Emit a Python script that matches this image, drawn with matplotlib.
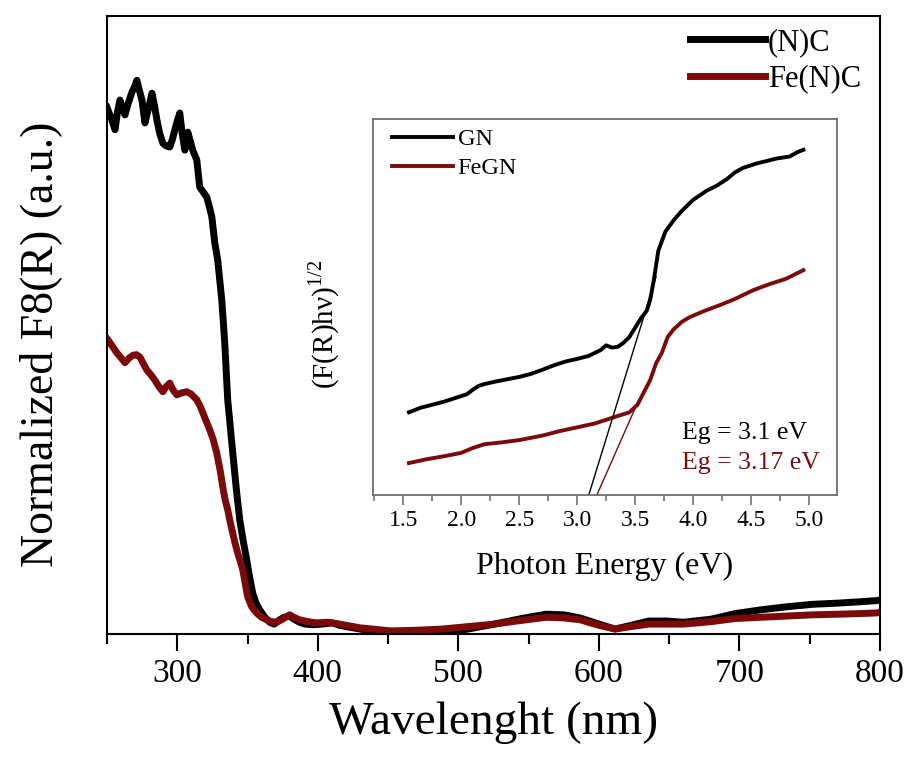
import matplotlib
matplotlib.use("Agg")
import matplotlib.pyplot as plt
from matplotlib.ticker import MultipleLocator

plt.rcParams["font.family"] = ["Liberation Serif", "DejaVu Serif"]
plt.rcParams["mathtext.fontset"] = "custom"
plt.rcParams["mathtext.rm"] = "Liberation Serif"

DARK_RED = "#7b0b0b"
INSET_GREY = "#6e6e6e"

# ---- main spectra: normalized F(R) vs wavelength ----
nc_wl = [250, 250.7, 253, 255.7, 257.5, 259.2, 261, 262.8, 265, 267.8,
         269.5, 271.3, 273, 274.9, 277, 279.5, 282, 283.8, 285.5, 287.5,
         289.8, 292, 294.7, 296.5, 298.3, 300, 301.8, 303.5, 305.4, 307.5,
         309, 311, 313.9, 316, 318.5, 321, 323, 324.6, 326.7, 328.8,
         331.7, 333.8, 335.9, 339.5, 342, 344.5, 347, 349.4, 351.5, 353.7,
         356, 358.7, 362, 365.8, 369, 372.9, 376, 380, 383, 387,
         391, 396.3, 403, 410.5, 415.5, 430, 452, 470, 488.6, 507,
         525.6, 545, 562.5, 575, 586.6, 600, 611.5, 623, 635.6, 648,
         660.5, 680, 697, 715, 733.6, 752, 770.6, 785, 797.6, 800]
nc_fr = [0.852, 0.848, 0.835, 0.816, 0.845, 0.864, 0.850, 0.840, 0.858, 0.877,
         0.885, 0.896, 0.880, 0.864, 0.827, 0.850, 0.875, 0.855, 0.832, 0.810,
         0.794, 0.790, 0.788, 0.800, 0.816, 0.830, 0.843, 0.810, 0.783, 0.812,
         0.800, 0.783, 0.767, 0.723, 0.715, 0.707, 0.690, 0.675, 0.633, 0.605,
         0.540, 0.471, 0.379, 0.293, 0.235, 0.184, 0.150, 0.120, 0.092, 0.066,
         0.050, 0.039, 0.028, 0.019, 0.016, 0.023, 0.027, 0.029, 0.024, 0.019,
         0.016, 0.015, 0.016, 0.018, 0.014, 0.008, 0.000, 0.001, 0.003, 0.008,
         0.016, 0.025, 0.032, 0.031, 0.026, 0.016, 0.008, 0.014, 0.021, 0.021,
         0.019, 0.024, 0.033, 0.039, 0.044, 0.048, 0.050, 0.052, 0.054, 0.055]

fenc_wl = [250, 250.7, 254, 257, 260, 262.8, 265.5, 268.5, 271, 273.5,
           276, 278.4, 281, 284, 287, 289.8, 292, 294.7, 297, 299.7,
           303, 306.8, 310, 313.9, 316, 318.2, 320.5, 323.2, 325.5, 328.1,
           330.5, 332.4, 334, 335.9, 337.5, 339.5, 341, 343, 344.8, 346.6,
           348.5, 350.1, 353, 356.5, 360, 363.6, 367, 370.7, 375, 380,
           383, 387, 393, 399, 407, 415.5, 430, 452, 470, 488.6,
           507, 525.6, 545, 562.5, 575, 586.6, 600, 611.5, 623, 635.6,
           648, 660.5, 680, 697, 715, 733.6, 752, 770.6, 785, 797.6, 800]
fenc_fr = [0.478, 0.476, 0.465, 0.455, 0.447, 0.439, 0.446, 0.451, 0.452, 0.448,
           0.437, 0.427, 0.420, 0.411, 0.400, 0.392, 0.400, 0.406, 0.395, 0.387,
           0.390, 0.392, 0.388, 0.379, 0.370, 0.358, 0.345, 0.330, 0.315, 0.293,
           0.265, 0.238, 0.218, 0.201, 0.183, 0.163, 0.148, 0.131, 0.118, 0.104,
           0.080, 0.060, 0.044, 0.034, 0.027, 0.023, 0.020, 0.019, 0.024, 0.031,
           0.027, 0.023, 0.020, 0.018, 0.019, 0.016, 0.010, 0.005, 0.006, 0.008,
           0.012, 0.016, 0.022, 0.027, 0.026, 0.023, 0.014, 0.008, 0.012, 0.016,
           0.016, 0.016, 0.020, 0.025, 0.027, 0.029, 0.031, 0.032, 0.033, 0.034, 0.035]

# ---- inset: Tauc plot ----
gn_ev = [1.55, 1.65, 1.75, 1.85, 1.95, 2.05, 2.1, 2.15, 2.2, 2.3,
         2.4, 2.5, 2.6, 2.7, 2.8, 2.9, 3.0, 3.1, 3.2, 3.25,
         3.3, 3.35, 3.4, 3.45, 3.5, 3.55, 3.6, 3.63, 3.66, 3.7,
         3.76, 3.83, 3.9, 4.0, 4.12, 4.2, 4.29, 4.36, 4.43, 4.55,
         4.63, 4.72, 4.83, 4.9, 4.95]
gn_tauc = [0.220, 0.232, 0.240, 0.248, 0.258, 0.268, 0.280, 0.290, 0.295, 0.302,
           0.308, 0.314, 0.322, 0.333, 0.345, 0.355, 0.362, 0.370, 0.385, 0.398,
           0.392, 0.394, 0.405, 0.420, 0.445, 0.470, 0.490, 0.520, 0.570, 0.650,
           0.700, 0.730, 0.755, 0.785, 0.810, 0.822, 0.840, 0.858, 0.870, 0.882,
           0.888, 0.895, 0.900, 0.912, 0.918]

fegn_ev = [1.55, 1.7, 1.85, 2.0, 2.1, 2.2, 2.35, 2.5, 2.7, 2.85,
           3.0, 3.15, 3.3, 3.45, 3.52, 3.57, 3.63, 3.68, 3.73, 3.78,
           3.83, 3.9, 3.97, 4.1, 4.23, 4.35, 4.52, 4.65, 4.8, 4.95]
fegn_tauc = [0.085, 0.095, 0.103, 0.112, 0.125, 0.135, 0.140, 0.146, 0.158, 0.170,
             0.180, 0.190, 0.205, 0.220, 0.240, 0.270, 0.306, 0.350, 0.378, 0.420,
             0.440, 0.460, 0.473, 0.490, 0.505, 0.520, 0.545, 0.560, 0.575, 0.598]

# band-gap extrapolation: intercept (Eg), slope of the linear edge, end of fit line
eg_values = [3.10, 3.17]
edge_slopes = [1.0, 0.70]
edge_ends = [3.68, 3.53]
eg_colors = ["black", DARK_RED]

fig = plt.figure(figsize=(9.09, 7.62), dpi=100)
ax = fig.add_axes([0.1177, 0.168, 0.8503, 0.811])

ax.plot(nc_wl, nc_fr, color="black", lw=5, label="(N)C", solid_joinstyle="round")
ax.plot(fenc_wl, fenc_fr, color=DARK_RED, lw=5, label="Fe(N)C", solid_joinstyle="round")

ax.set_xlim(250, 800)
ax.set_ylim(0, 1)
ax.set_yticks([])
ax.xaxis.set_major_locator(MultipleLocator(100))
ax.xaxis.set_minor_locator(MultipleLocator(50))
ax.tick_params(axis="x", which="major", direction="out", length=12, width=1.5,
               labelsize=24, pad=6)
ax.tick_params(axis="x", which="minor", direction="out", length=7, width=1.5)
for sp in ax.spines.values():
    sp.set_linewidth(1.5)
ax.set_xlabel("Wavelenght (nm)", fontsize=34, labelpad=9)
ax.set_ylabel("Normalized F8(R) (a.u.)", fontsize=33)
ax.yaxis.set_label_coords(-0.058, 0.468)

ax.legend(loc="upper left", bbox_to_anchor=(690 / 909, 1 - 28 / 762),
          bbox_transform=fig.transFigure, frameon=False, fontsize=22,
          handlelength=2.45, handletextpad=0.1, labelspacing=0.25,
          borderpad=0, borderaxespad=0)

# inset
ins = fig.add_axes([373 / 909, 1 - 495 / 762, 464 / 909, 376 / 762])
ins.plot(gn_ev, gn_tauc, color="black", lw=2.8, label="GN")
ins.plot(fegn_ev, fegn_tauc, color=DARK_RED, lw=2.8, label="FeGN")
for eg, slope, end, c in zip(eg_values, edge_slopes, edge_ends, eg_colors):
    ins.plot([eg, end], [0, slope * (end - eg)], color=c, lw=1.0)

ins.set_xlim(1.24, 5.24)
ins.set_ylim(0, 1)
ins.set_yticks([])
ins.xaxis.set_major_locator(MultipleLocator(0.5))
ins.xaxis.set_minor_locator(MultipleLocator(0.25))
ins.xaxis.set_major_formatter(plt.FormatStrFormatter("%.1f"))
ins.tick_params(axis="x", which="major", direction="out", length=7, width=1.2,
                color=INSET_GREY, labelsize=17, pad=4)
ins.tick_params(axis="x", which="minor", direction="out", length=4, width=1.2,
                color=INSET_GREY)
for sp in ins.spines.values():
    sp.set_color(INSET_GREY)
    sp.set_linewidth(1.3)
ins.set_xlabel("Photon Energy (eV)", fontsize=23, labelpad=15)
ins.set_ylabel(r"(F(R)hν)$^{\mathregular{1/2}}$", fontsize=21)
ins.yaxis.set_label_coords(-0.067, 0.455)

ins.legend(loc="upper left", bbox_to_anchor=(392 / 909, 1 - 128 / 762),
           bbox_transform=fig.transFigure, frameon=False, fontsize=17.5,
           handlelength=2.5, handletextpad=0.2, labelspacing=0.3,
           borderpad=0, borderaxespad=0)

ins.text(0.665, 0.165, f"Eg = {eg_values[0]:.1f} eV", transform=ins.transAxes,
         fontsize=18.5, color="black", va="center", ha="left")
ins.text(0.665, 0.085, f"Eg = {eg_values[1]:.2f} eV", transform=ins.transAxes,
         fontsize=18.5, color=DARK_RED, va="center", ha="left")

fig.savefig("out.png", dpi=100)
